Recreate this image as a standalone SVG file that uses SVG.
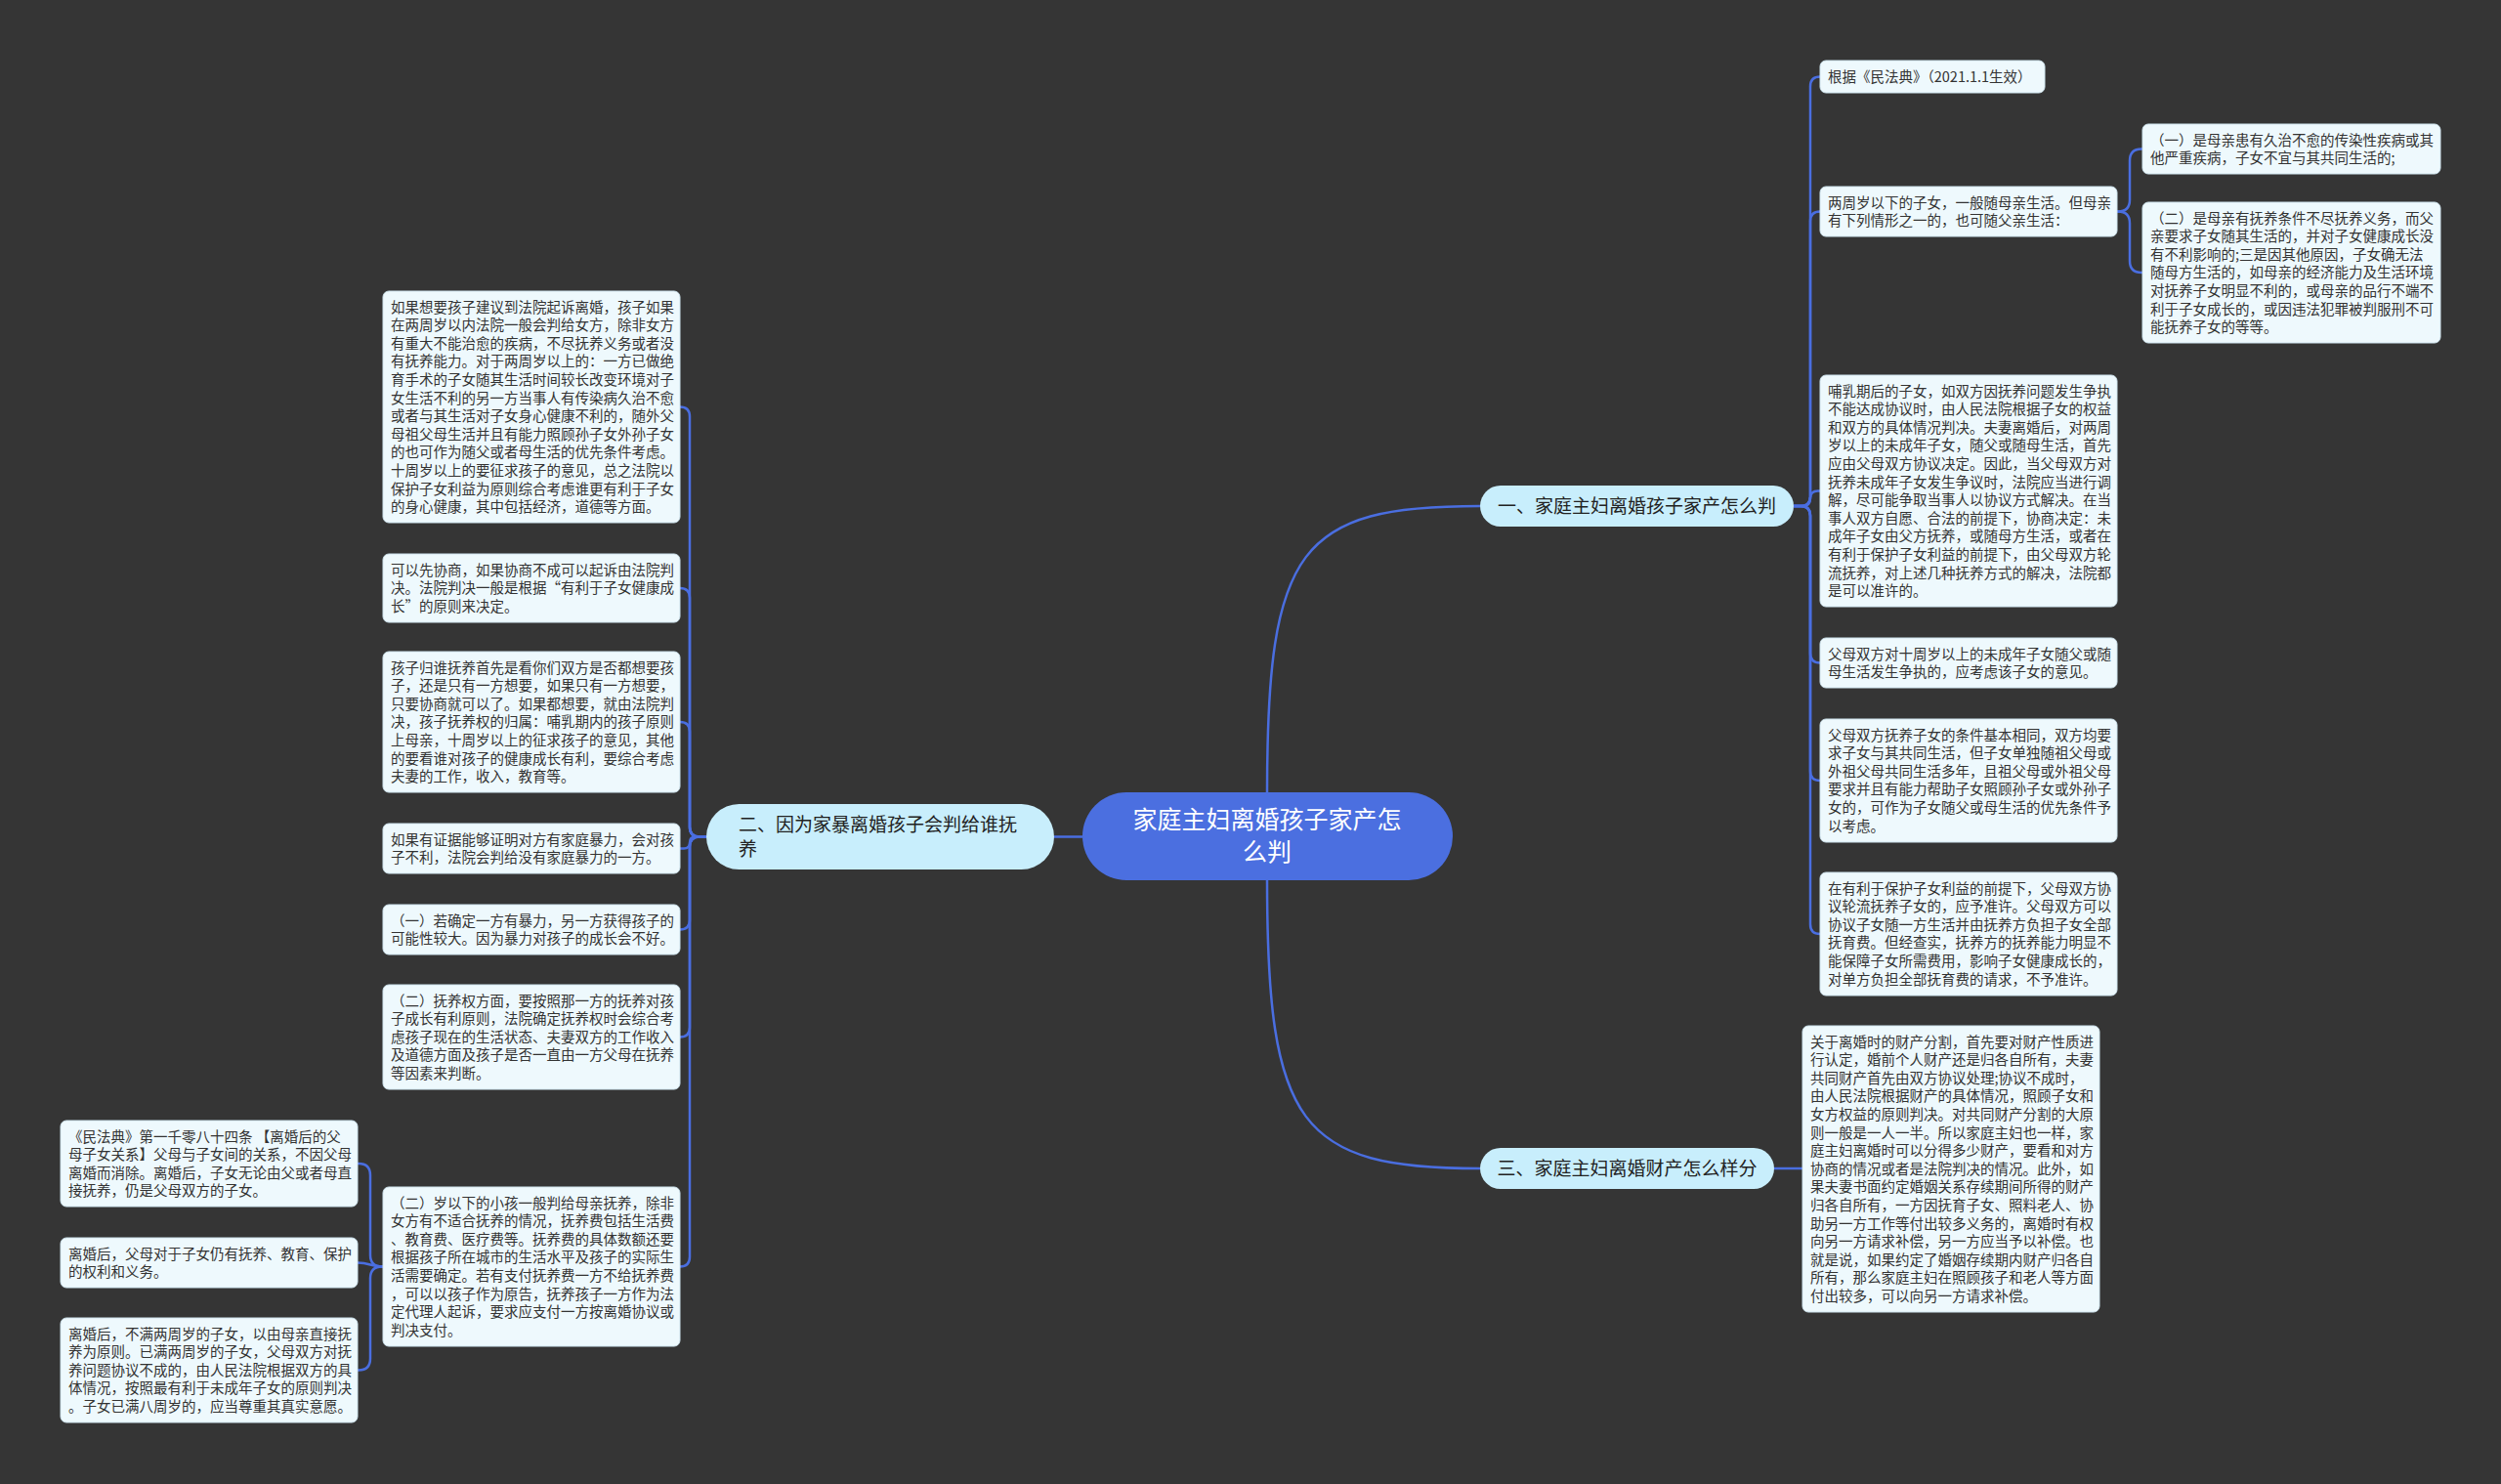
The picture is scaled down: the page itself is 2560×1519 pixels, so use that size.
<svg xmlns="http://www.w3.org/2000/svg" width="2560" height="1519" viewBox="0 0 2560 1519">
<style>
text{font-family:"Noto Sans CJK SC","Noto Sans",sans-serif}
.leaf rect{fill:#eef9fd;stroke:#cfe4ee;stroke-width:1}
.leaf text{font-size:14.5px;fill:#333}
.branch rect{fill:#c8eefc}
.branch text{font-size:19px;fill:#222}
.conn path{fill:none;stroke:#4a6ee0;stroke-width:2.5}
</style>
<rect x="0" y="0" width="2560" height="1519" fill="#353535"/>
<g class="conn" id="connectors">
<path d="M1297,811 C1297,560 1330,518 1515,518"/>
<path d="M1297,901 C1297,1152 1330,1196 1515,1196"/>
<path d="M1108,856.5 H1079"/>
<path d="M1816,1196 H1845"/>
<path d="M1836,518 H1843 Q1853,518 1853,508 V88.5 Q1853,78.5 1863,78.5"/>
<path d="M1836,518 H1843 Q1853,518 1853,508 V226.5 Q1853,216.5 1863,216.5"/>
<path d="M1836,518 H1845.25 Q1853,518 1853,510.25 Q1853,502.5 1860.75,502.5 H1863"/>
<path d="M1836,518 H1843 Q1853,518 1853,528 V668.5 Q1853,678.5 1863,678.5"/>
<path d="M1836,518 H1843 Q1853,518 1853,528 V789 Q1853,799 1863,799"/>
<path d="M1836,518 H1843 Q1853,518 1853,528 V946 Q1853,956 1863,956"/>
<path d="M2167,216.5 H2168 Q2180,216.5 2180,204.5 V164.5 Q2180,152.5 2192,152.5 H2193"/>
<path d="M2167,216.5 H2168 Q2180,216.5 2180,228.5 V267 Q2180,279 2192,279 H2193"/>
<path d="M723,856.5 H716 Q706,856.5 706,846.5 V426.5 Q706,416.5 696,416.5"/>
<path d="M723,856.5 H716 Q706,856.5 706,846.5 V612 Q706,602 696,602"/>
<path d="M723,856.5 H716 Q706,856.5 706,846.5 V749 Q706,739 696,739"/>
<path d="M723,856.5 H712 Q706,856.5 706,862.5 Q706,868.5 700,868.5 H696"/>
<path d="M723,856.5 H716 Q706,856.5 706,866.5 V941.5 Q706,951.5 696,951.5"/>
<path d="M723,856.5 H716 Q706,856.5 706,866.5 V1051.5 Q706,1061.5 696,1061.5"/>
<path d="M723,856.5 H716 Q706,856.5 706,866.5 V1286.5 Q706,1296.5 696,1296.5"/>
<path d="M392,1296.5 H391 Q379,1296.5 379,1284.5 V1203 Q379,1191 367,1191 H366"/>
<path d="M392,1296.5 C379,1296.5 379,1292.5 366,1292.5"/>
<path d="M392,1296.5 H391 Q379,1296.5 379,1308.5 V1390.5 Q379,1402.5 367,1402.5 H366"/>
</g>

<g id="center">
<rect x="1108" y="811" width="379" height="90" rx="45" fill="#4b6fe0"/>
<text x="1297" y="847.5" font-size="25" fill="#fff" text-anchor="middle">家庭主妇离婚孩子家产怎</text>
<text x="1297" y="880.5" font-size="25" fill="#fff" text-anchor="middle">么判</text>
</g>

<g id="branch1" class="branch">
<rect x="1515" y="497" width="321" height="42" rx="21"/>
<text x="1675.5" y="524.5" text-anchor="middle">一、家庭主妇离婚孩子家产怎么判</text>
</g>
<g id="branch2" class="branch">
<rect x="723" y="823" width="356" height="67" rx="33.5"/>
<text x="756" y="851">二、因为家暴离婚孩子会判给谁抚</text>
<text x="756" y="876">养</text>
</g>
<g id="branch3" class="branch">
<rect x="1515" y="1175" width="301" height="42" rx="21"/>
<text x="1665.5" y="1202.5" text-anchor="middle">三、家庭主妇离婚财产怎么样分</text>
</g>

<g id="L1" class="leaf">
<rect x="392" y="298" width="304" height="237" rx="6"/>
<text y="319.6"><tspan x="400">如果想要孩子建议到法院起诉离婚，孩子如果</tspan><tspan x="400" dy="18.6">在两周岁以内法院一般会判给女方，除非女方</tspan><tspan x="400" dy="18.6">有重大不能治愈的疾病，不尽抚养义务或者没</tspan><tspan x="400" dy="18.6">有抚养能力。对于两周岁以上的：一方已做绝</tspan><tspan x="400" dy="18.6">育手术的子女随其生活时间较长改变环境对子</tspan><tspan x="400" dy="18.6">女生活不利的另一方当事人有传染病久治不愈</tspan><tspan x="400" dy="18.6">或者与其生活对子女身心健康不利的，随外父</tspan><tspan x="400" dy="18.6">母祖父母生活并且有能力照顾孙子女外孙子女</tspan><tspan x="400" dy="18.6">的也可作为随父或者母生活的优先条件考虑。</tspan><tspan x="400" dy="18.6">十周岁以上的要征求孩子的意见，总之法院以</tspan><tspan x="400" dy="18.6">保护子女利益为原则综合考虑谁更有利于子女</tspan><tspan x="400" dy="18.6">的身心健康，其中包括经济，道德等方面。</tspan></text>
</g>
<g id="L2" class="leaf">
<rect x="392" y="567" width="304" height="70" rx="6"/>
<text y="588.6"><tspan x="400">可以先协商，如果协商不成可以起诉由法院判</tspan><tspan x="400" dy="18.6">决。法院判决一般是根据“有利于子女健康成</tspan><tspan x="400" dy="18.6">长”的原则来决定。</tspan></text>
</g>
<g id="L3" class="leaf">
<rect x="392" y="667" width="304" height="144" rx="6"/>
<text y="688.6"><tspan x="400">孩子归谁抚养首先是看你们双方是否都想要孩</tspan><tspan x="400" dy="18.6">子，还是只有一方想要，如果只有一方想要，</tspan><tspan x="400" dy="18.6">只要协商就可以了。如果都想要，就由法院判</tspan><tspan x="400" dy="18.6">决，孩子抚养权的归属：哺乳期内的孩子原则</tspan><tspan x="400" dy="18.6">上母亲，十周岁以上的征求孩子的意见，其他</tspan><tspan x="400" dy="18.6">的要看谁对孩子的健康成长有利，要综合考虑</tspan><tspan x="400" dy="18.6">夫妻的工作，收入，教育等。</tspan></text>
</g>
<g id="L4" class="leaf">
<rect x="392" y="843" width="304" height="51" rx="6"/>
<text y="864.6"><tspan x="400">如果有证据能够证明对方有家庭暴力，会对孩</tspan><tspan x="400" dy="18.6">子不利，法院会判给没有家庭暴力的一方。</tspan></text>
</g>
<g id="L5" class="leaf">
<rect x="392" y="926" width="304" height="51" rx="6"/>
<text y="947.6"><tspan x="400">（一）若确定一方有暴力，另一方获得孩子的</tspan><tspan x="400" dy="18.6">可能性较大。因为暴力对孩子的成长会不好。</tspan></text>
</g>
<g id="L6" class="leaf">
<rect x="392" y="1008" width="304" height="107" rx="6"/>
<text y="1029.6"><tspan x="400">（二）抚养权方面，要按照那一方的抚养对孩</tspan><tspan x="400" dy="18.6">子成长有利原则，法院确定抚养权时会综合考</tspan><tspan x="400" dy="18.6">虑孩子现在的生活状态、夫妻双方的工作收入</tspan><tspan x="400" dy="18.6">及道德方面及孩子是否一直由一方父母在抚养</tspan><tspan x="400" dy="18.6">等因素来判断。</tspan></text>
</g>
<g id="L7" class="leaf">
<rect x="392" y="1215" width="304" height="163" rx="6"/>
<text y="1236.6"><tspan x="400">（二）岁以下的小孩一般判给母亲抚养，除非</tspan><tspan x="400" dy="18.6">女方有不适合抚养的情况，抚养费包括生活费</tspan><tspan x="400" dy="18.6">、教育费、医疗费等。抚养费的具体数额还要</tspan><tspan x="400" dy="18.6">根据孩子所在城市的生活水平及孩子的实际生</tspan><tspan x="400" dy="18.6">活需要确定。若有支付抚养费一方不给抚养费</tspan><tspan x="400" dy="18.6">，可以以孩子作为原告，抚养孩子一方作为法</tspan><tspan x="400" dy="18.6">定代理人起诉，要求应支付一方按离婚协议或</tspan><tspan x="400" dy="18.6">判决支付。</tspan></text>
</g>
<g id="FL1" class="leaf">
<rect x="62" y="1147" width="304" height="88" rx="6"/>
<text y="1168.6"><tspan x="70">《民法典》第一千零八十四条 【离婚后的父</tspan><tspan x="70" dy="18.6">母子女关系】父母与子女间的关系，不因父母</tspan><tspan x="70" dy="18.6">离婚而消除。离婚后，子女无论由父或者母直</tspan><tspan x="70" dy="18.6">接抚养，仍是父母双方的子女。</tspan></text>
</g>
<g id="FL2" class="leaf">
<rect x="62" y="1267" width="304" height="51" rx="6"/>
<text y="1288.6"><tspan x="70">离婚后，父母对于子女仍有抚养、教育、保护</tspan><tspan x="70" dy="18.6">的权利和义务。</tspan></text>
</g>
<g id="FL3" class="leaf">
<rect x="62" y="1349" width="304" height="107" rx="6"/>
<text y="1370.6"><tspan x="70">离婚后，不满两周岁的子女，以由母亲直接抚</tspan><tspan x="70" dy="18.6">养为原则。已满两周岁的子女，父母双方对抚</tspan><tspan x="70" dy="18.6">养问题协议不成的，由人民法院根据双方的具</tspan><tspan x="70" dy="18.6">体情况，按照最有利于未成年子女的原则判决</tspan><tspan x="70" dy="18.6">。子女已满八周岁的，应当尊重其真实意愿。</tspan></text>
</g>

<g id="R1" class="leaf">
<rect x="1863" y="62" width="230" height="33" rx="6"/>
<text y="83.6"><tspan x="1871">根据《民法典》（2021.1.1生效）</tspan></text>
</g>
<g id="R2" class="leaf">
<rect x="1863" y="191" width="304" height="51" rx="6"/>
<text y="212.6"><tspan x="1871">两周岁以下的子女，一般随母亲生活。但母亲</tspan><tspan x="1871" dy="18.6">有下列情形之一的，也可随父亲生活：</tspan></text>
</g>
<g id="R2a" class="leaf">
<rect x="2193" y="127" width="305" height="51" rx="6"/>
<text y="148.6"><tspan x="2201">（一）是母亲患有久治不愈的传染性疾病或其</tspan><tspan x="2201" dy="18.6">他严重疾病，子女不宜与其共同生活的;</tspan></text>
</g>
<g id="R2b" class="leaf">
<rect x="2193" y="207" width="305" height="144" rx="6"/>
<text y="228.6"><tspan x="2201">（二）是母亲有抚养条件不尽抚养义务，而父</tspan><tspan x="2201" dy="18.6">亲要求子女随其生活的，并对子女健康成长没</tspan><tspan x="2201" dy="18.6">有不利影响的;三是因其他原因，子女确无法</tspan><tspan x="2201" dy="18.6">随母方生活的，如母亲的经济能力及生活环境</tspan><tspan x="2201" dy="18.6">对抚养子女明显不利的，或母亲的品行不端不</tspan><tspan x="2201" dy="18.6">利于子女成长的，或因违法犯罪被判服刑不可</tspan><tspan x="2201" dy="18.6">能抚养子女的等等。</tspan></text>
</g>
<g id="R3" class="leaf">
<rect x="1863" y="384" width="304" height="237" rx="6"/>
<text y="405.6"><tspan x="1871">哺乳期后的子女，如双方因抚养问题发生争执</tspan><tspan x="1871" dy="18.6">不能达成协议时，由人民法院根据子女的权益</tspan><tspan x="1871" dy="18.6">和双方的具体情况判决。夫妻离婚后，对两周</tspan><tspan x="1871" dy="18.6">岁以上的未成年子女，随父或随母生活，首先</tspan><tspan x="1871" dy="18.6">应由父母双方协议决定。因此，当父母双方对</tspan><tspan x="1871" dy="18.6">抚养未成年子女发生争议时，法院应当进行调</tspan><tspan x="1871" dy="18.6">解，尽可能争取当事人以协议方式解决。在当</tspan><tspan x="1871" dy="18.6">事人双方自愿、合法的前提下，协商决定：未</tspan><tspan x="1871" dy="18.6">成年子女由父方抚养，或随母方生活，或者在</tspan><tspan x="1871" dy="18.6">有利于保护子女利益的前提下，由父母双方轮</tspan><tspan x="1871" dy="18.6">流抚养，对上述几种抚养方式的解决，法院都</tspan><tspan x="1871" dy="18.6">是可以准许的。</tspan></text>
</g>
<g id="R4" class="leaf">
<rect x="1863" y="653" width="304" height="51" rx="6"/>
<text y="674.6"><tspan x="1871">父母双方对十周岁以上的未成年子女随父或随</tspan><tspan x="1871" dy="18.6">母生活发生争执的，应考虑该子女的意见。</tspan></text>
</g>
<g id="R5" class="leaf">
<rect x="1863" y="736" width="304" height="126" rx="6"/>
<text y="757.6"><tspan x="1871">父母双方抚养子女的条件基本相同，双方均要</tspan><tspan x="1871" dy="18.6">求子女与其共同生活，但子女单独随祖父母或</tspan><tspan x="1871" dy="18.6">外祖父母共同生活多年，且祖父母或外祖父母</tspan><tspan x="1871" dy="18.6">要求并且有能力帮助子女照顾孙子女或外孙子</tspan><tspan x="1871" dy="18.6">女的，可作为子女随父或母生活的优先条件予</tspan><tspan x="1871" dy="18.6">以考虑。</tspan></text>
</g>
<g id="R6" class="leaf">
<rect x="1863" y="893" width="304" height="126" rx="6"/>
<text y="914.6"><tspan x="1871">在有利于保护子女利益的前提下，父母双方协</tspan><tspan x="1871" dy="18.6">议轮流抚养子女的，应予准许。父母双方可以</tspan><tspan x="1871" dy="18.6">协议子女随一方生活并由抚养方负担子女全部</tspan><tspan x="1871" dy="18.6">抚育费。但经查实，抚养方的抚养能力明显不</tspan><tspan x="1871" dy="18.6">能保障子女所需费用，影响子女健康成长的，</tspan><tspan x="1871" dy="18.6">对单方负担全部抚育费的请求，不予准许。</tspan></text>
</g>
<g id="R7" class="leaf">
<rect x="1845" y="1050" width="304" height="293" rx="6"/>
<text y="1071.6"><tspan x="1853">关于离婚时的财产分割，首先要对财产性质进</tspan><tspan x="1853" dy="18.6">行认定，婚前个人财产还是归各自所有，夫妻</tspan><tspan x="1853" dy="18.6">共同财产首先由双方协议处理;协议不成时，</tspan><tspan x="1853" dy="18.6">由人民法院根据财产的具体情况，照顾子女和</tspan><tspan x="1853" dy="18.6">女方权益的原则判决。对共同财产分割的大原</tspan><tspan x="1853" dy="18.6">则一般是一人一半。所以家庭主妇也一样，家</tspan><tspan x="1853" dy="18.6">庭主妇离婚时可以分得多少财产，要看和对方</tspan><tspan x="1853" dy="18.6">协商的情况或者是法院判决的情况。此外，如</tspan><tspan x="1853" dy="18.6">果夫妻书面约定婚姻关系存续期间所得的财产</tspan><tspan x="1853" dy="18.6">归各自所有，一方因抚育子女、照料老人、协</tspan><tspan x="1853" dy="18.6">助另一方工作等付出较多义务的，离婚时有权</tspan><tspan x="1853" dy="18.6">向另一方请求补偿，另一方应当予以补偿。也</tspan><tspan x="1853" dy="18.6">就是说，如果约定了婚姻存续期内财产归各自</tspan><tspan x="1853" dy="18.6">所有，那么家庭主妇在照顾孩子和老人等方面</tspan><tspan x="1853" dy="18.6">付出较多，可以向另一方请求补偿。</tspan></text>
</g>
</svg>
